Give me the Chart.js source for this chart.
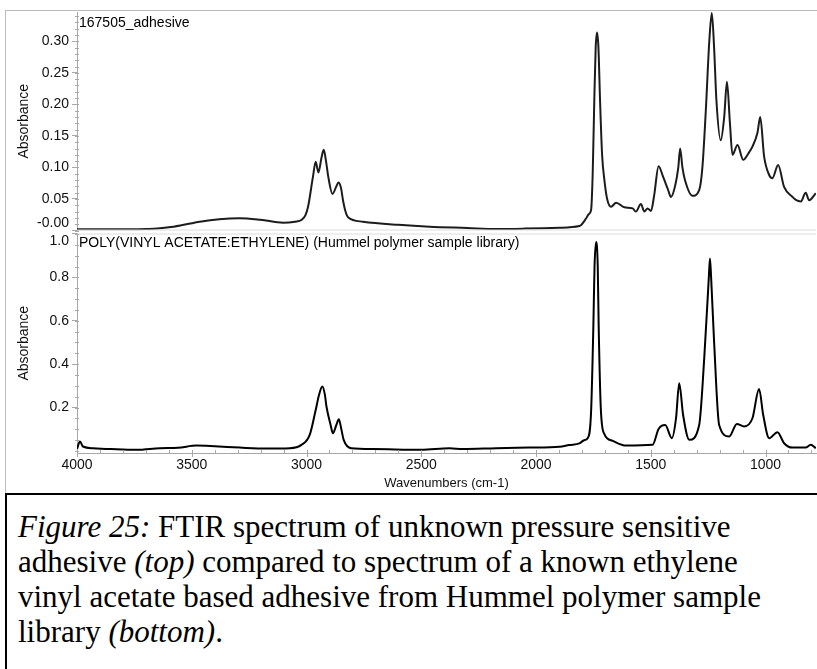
<!DOCTYPE html>
<html>
<head>
<meta charset="utf-8">
<script src="https://cdn.jsdelivr.net/npm/chart.js@4.4.0/dist/chart.umd.min.js"></script>
<style>
html,body{margin:0;padding:0;background:#fff;}
body{width:817px;height:669px;position:relative;overflow:hidden;}
#frame{position:absolute;left:5px;top:10px;width:900px;height:600px;border-left:1px solid #bcbcbc;border-top:1px solid #bcbcbc;}
canvas{position:absolute;left:0;top:0;}
#caption{position:absolute;left:5px;top:493px;width:900px;height:300px;border:2px solid #000;background:#fff;
  font-family:"Liberation Serif","Times New Roman",serif;font-size:31px;line-height:35px;color:#000;
  padding:14px 0 0 11px;box-sizing:border-box;white-space:nowrap;}
</style>
</head>
<body>
<div id="frame"></div>
<canvas id="c1" width="817" height="495"></canvas>
<canvas id="c2" width="817" height="495"></canvas>
<div id="caption"><i>Figure 25:</i> FTIR spectrum of unknown pressure sensitive<br>adhesive <i>(top)</i> compared to spectrum of a known ethylene<br>vinyl acetate based adhesive from Hummel polymer sample<br>library <i>(bottom)</i>.</div>
<script>
// ---- data ----
const topTitle = "167505_adhesive";
const bottomTitle = "POLY(VINYL ACETATE:ETHYLENE) (Hummel polymer sample library)";
const xTitle = "Wavenumbers (cm-1)";
const yTitle = "Absorbance";

const xTickValues = [4000, 3500, 3000, 2500, 2000, 1500, 1000];
const topYTickValues = [0, 0.05, 0.10, 0.15, 0.20, 0.25, 0.30];
const topYTickLabels = ["-0.00", "0.05", "0.10", "0.15", "0.20", "0.25", "0.30"];
const bottomYTickValues = [0.2, 0.4, 0.6, 0.8, 1.0];
const bottomYTickLabels = ["0.2", "0.4", "0.6", "0.8", "1.0"];

const topWavenumbers = [4000,3900,3800,3700,3650,3600,3550,3465,3380,3291,3200,3102,3050,3022,3005,2993,2972,2960,2948,2935,2925,2915,2905,2887,2870,2861,2850,2841,2830,2819,2754,2600,2464,2300,2174,2050,1898,1811,1782,1770,1760,1753,1746,1740,1734,1728,1721,1712,1702,1690,1673,1651,1615,1579,1565,1543,1528,1514,1499,1485,1466,1446,1425,1412,1393,1380,1372,1362,1351,1318,1289,1275,1260,1245,1234,1224,1214,1195,1180,1168,1155,1144,1122,1097,1075,1057,1035,1023,1006,984,970,945,919,883,866,846,825,810,781];
const topAbsorbance = [0.002,0.002,0.002,0.0025,0.003,0.005,0.008,0.014,0.018,0.0195,0.017,0.0124,0.014,0.0166,0.024,0.038,0.085,0.109,0.092,0.115,0.128,0.11,0.085,0.058,0.07,0.076,0.068,0.048,0.03,0.021,0.014,0.009,0.006,0.004,0.0024,0.003,0.0044,0.007,0.019,0.026,0.0325,0.09,0.207,0.29,0.314,0.29,0.207,0.12,0.080,0.05,0.0377,0.044,0.0368,0.035,0.030,0.042,0.030,0.035,0.031,0.056,0.102,0.085,0.065,0.053,0.072,0.10,0.130,0.10,0.080,0.055,0.064,0.10,0.191,0.30,0.345,0.29,0.207,0.143,0.18,0.236,0.17,0.120,0.1355,0.112,0.122,0.133,0.155,0.180,0.117,0.088,0.083,0.104,0.069,0.0535,0.048,0.046,0.060,0.048,0.059];

const bottomWavenumbers = [4000,3987,3974,3930,3850,3740,3639,3560,3479,3400,3291,3175,3073,3022,2986,2960,2945,2931,2920,2913,2895,2885,2870,2859,2850,2838,2805,2711,2500,2377,2319,2174,2029,1898,1855,1811,1790,1775,1760,1750,1745,1738,1731,1727,1717,1702,1666,1608,1492,1466,1437,1408,1390,1376,1359,1332,1289,1267,1247,1242,1237,1224,1202,1158,1125,1093,1057,1028,1010,984,948,919,883,825,803,781];
const bottomAbsorbance = [0.01,0.044,0.021,0.013,0.009,0.0055,0.013,0.015,0.025,0.022,0.016,0.0115,0.013,0.0285,0.0745,0.189,0.26,0.297,0.26,0.205,0.12,0.082,0.12,0.147,0.11,0.0515,0.013,0.009,0.0055,0.013,0.009,0.013,0.016,0.02,0.028,0.035,0.05,0.059,0.182,0.58,0.85,0.963,0.85,0.58,0.182,0.078,0.047,0.025,0.0285,0.102,0.120,0.059,0.15,0.312,0.166,0.0515,0.120,0.427,0.80,0.887,0.80,0.503,0.120,0.067,0.125,0.113,0.151,0.286,0.166,0.059,0.087,0.036,0.016,0.016,0.0285,0.013];

// ---- helpers ----
const FONT = "'Liberation Sans', Arial, sans-serif";
const AXIS_GRAY = '#a8a8a8';
const W = 817, H = 495;

const decorPlugin = {
  id: 'decor',
  beforeDraw(chart, args, o) {
    const ys = chart.scales.y;
    const items = ys.getLabelItems();
    items.forEach(it => {
      if (it.label === o.topEdgeLabel) it.options.textBaseline = 'top';
      if (it.label === o.bottomEdgeLabel) it.options.textBaseline = 'bottom';
    });
  },
  afterDraw(chart, args, o) {
    const ctx = chart.ctx, a = chart.chartArea;
    const ys = chart.scales.y, xs = chart.scales.x;
    ctx.save();
    ctx.strokeStyle = '#dcdcdc';
    ctx.lineWidth = 1;
    ctx.beginPath();
    if (o.frameTop) { ctx.moveTo(a.left, a.top + 0.5); ctx.lineTo(a.right, a.top + 0.5); }
    if (o.frameBottom) { ctx.moveTo(a.left, a.bottom - 0.5); ctx.lineTo(a.right, a.bottom - 0.5); }
    ctx.stroke();
    ctx.strokeStyle = AXIS_GRAY;
    ctx.beginPath();
    const start = Math.ceil(ys.min / o.yMinorStep - 1e-6);
    for (let k = start; k * o.yMinorStep <= ys.max + 1e-9; k++) {
      const py = Math.round(ys.getPixelForValue(k * o.yMinorStep)) + 0.5;
      ctx.moveTo(a.left - 2, py); ctx.lineTo(a.left + 2, py);
    }
    ctx.stroke();
    if (o.xMinorStep) {
      ctx.beginPath();
      const s0 = Math.ceil(xs.min / o.xMinorStep);
      for (let k = s0; k * o.xMinorStep <= xs.max; k++) {
        const px = Math.round(xs.getPixelForValue(k * o.xMinorStep)) + 0.5;
        const major = (k * o.xMinorStep) % 500 === 0;
        ctx.moveTo(px, a.bottom - 3); ctx.lineTo(px, a.bottom + (major ? 4 : 1));
      }
      ctx.stroke();
    }
    ctx.fillStyle = '#000';
    ctx.font = "14px " + FONT;
    ctx.textBaseline = 'middle';
    ctx.textAlign = 'left';
    ctx.fillText(o.title, a.left + 2, a.top + o.titleDy);
    ctx.restore();
  }
};

function yAxis(min, max, values, labels) {
  return {
    type: 'linear', position: 'left', min: min, max: max,
    afterBuildTicks: s => { s.ticks = values.map(v => ({ value: v })); },
    afterFit: s => { s.width = 77; },
    ticks: {
      autoSkip: false, padding: 3, color: '#111',
      font: { family: FONT, size: 14 },
      callback: (v) => { const i = values.findIndex(t => Math.abs(t - v) < 1e-9); return i >= 0 ? labels[i] : ''; }
    },
    grid: { display: true, drawOnChartArea: false, drawTicks: true, tickLength: 5, color: AXIS_GRAY },
    border: { display: true, color: AXIS_GRAY },
    title: { display: true, text: yTitle, color: '#111', font: { family: FONT, size: 14 }, padding: { top: 16, bottom: 0 } }
  };
}

function pts(xs, ys) { return xs.map((x, i) => ({ x: x, y: ys[i] })); }

const lineDs = (d, color) => ({
  data: d, borderColor: color, borderWidth: 2, pointRadius: 0, fill: false,
  cubicInterpolationMode: 'monotone'
});

new Chart(document.getElementById('c1'), {
  type: 'line',
  data: { datasets: [lineDs(pts(topWavenumbers, topAbsorbance), '#1c1c1c')] },
  options: {
    responsive: false, animation: false, events: [],
    layout: { padding: { top: 12, bottom: H - 230.5, left: 0, right: 1 } },
    plugins: { legend: { display: false }, tooltip: { enabled: false },
      decor: { title: topTitle, titleDy: 11, frameTop: false, frameBottom: true, yMinorStep: 0.01, bottomEdgeLabel: '-0.00' } },
    scales: {
      x: { type: 'linear', reverse: true, min: 780, max: 4000, display: false },
      y: yAxis(0, 0.3465, topYTickValues, topYTickLabels)
    }
  },
  plugins: [decorPlugin]
});

new Chart(document.getElementById('c2'), {
  type: 'line',
  data: { datasets: [lineDs(pts(bottomWavenumbers, bottomAbsorbance), '#000')] },
  options: {
    responsive: false, animation: false, events: [],
    layout: { padding: { top: 233.5, bottom: 0, left: 0, right: 1 } },
    plugins: { legend: { display: false }, tooltip: { enabled: false },
      decor: { title: bottomTitle, titleDy: 10, frameTop: true, frameBottom: false, yMinorStep: 0.05, xMinorStep: 100, topEdgeLabel: '1.0' } },
    scales: {
      x: {
        type: 'linear', reverse: true, min: 780, max: 4000,
        afterBuildTicks: s => { s.ticks = xTickValues.map(v => ({ value: v })); },
        afterFit: s => { s.height = H - 453; },
        ticks: { autoSkip: false, maxRotation: 0, padding: 4, color: '#111', font: { family: FONT, size: 14 },
          callback: v => String(v) },
        grid: { display: true, drawOnChartArea: false, drawTicks: false, color: AXIS_GRAY },
        border: { display: true, color: AXIS_GRAY },
        title: { display: true, text: xTitle, color: '#111', font: { family: FONT, size: 13 }, padding: { top: 0, bottom: 4 } }
      },
      y: yAxis(-0.009, 1.002, bottomYTickValues, bottomYTickLabels)
    }
  },
  plugins: [decorPlugin]
});
</script>
</body>
</html>
